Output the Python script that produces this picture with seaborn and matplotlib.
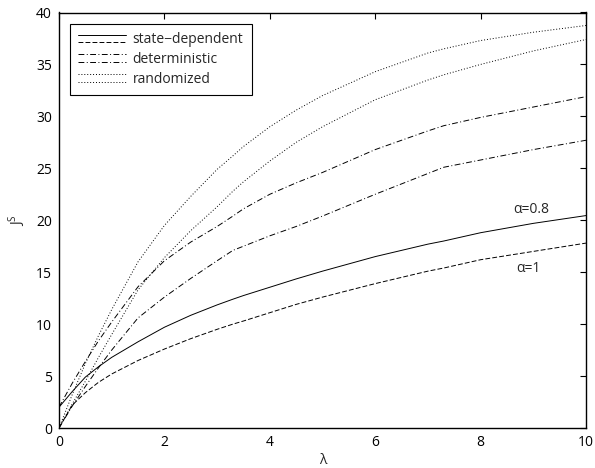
import numpy as np
import pandas as pd
import matplotlib
matplotlib.use("Agg")
import matplotlib.pyplot as plt
import seaborn as sns
from matplotlib.lines import Line2D
from matplotlib.legend_handler import HandlerBase

# arrival rate grid
lam = [0, 0.25, 0.5, 0.75, 1, 1.5, 2, 2.5, 3, 3.3, 3.5, 4, 4.5, 5, 6, 7, 7.3, 8, 9, 10]

# state-dependent policy
sd_a08 = [2.0, 3.5, 4.9, 5.9, 6.8, 8.3, 9.7, 10.85, 11.85, 12.4, 12.75, 13.55, 14.35, 15.1,
          16.5, 17.7, 18.0, 18.8, 19.7, 20.45]
sd_a1 = [0.0, 2.2, 3.4, 4.4, 5.2, 6.5, 7.6, 8.6, 9.5, 10.0, 10.3, 11.1, 11.9, 12.6,
         13.9, 15.1, 15.4, 16.2, 17.0, 17.8]

# deterministic policy
det_a08 = [2.0, 4.3, 6.4, 8.4, 10.2, 13.6, 16.1, 17.9, 19.4, 20.4, 21.1, 22.5, 23.6, 24.6,
           26.8, 28.6, 29.1, 29.9, 30.9, 31.9]
det_a1 = [0.0, 2.1, 4.0, 5.8, 7.5, 10.6, 12.6, 14.4, 16.1, 17.1, 17.5, 18.5, 19.4, 20.4,
          22.5, 24.5, 25.1, 25.8, 26.8, 27.7]

# randomized policy
rnd_a08 = [0.0, 3.2, 6.2, 8.9, 11.4, 16.0, 19.5, 22.3, 24.9, 26.2, 27.1, 29.0, 30.6, 32.0,
           34.3, 36.1, 36.5, 37.3, 38.1, 38.75]
rnd_a1 = [0.0, 2.3, 4.5, 6.8, 9.0, 13.3, 16.4, 19.0, 21.3, 22.8, 23.7, 25.7, 27.5, 29.0,
          31.6, 33.5, 34.0, 35.0, 36.3, 37.4]

policy_names = ["state\u2212dependent", "deterministic", "randomized"]

curves = {
    "sd_a08": sd_a08, "sd_a1": sd_a1,
    "det_a08": det_a08, "det_a1": det_a1,
    "rnd_a08": rnd_a08, "rnd_a1": rnd_a1,
}
dashes = {
    "sd_a08": "",
    "sd_a1": (5, 2.2),
    "det_a08": (6, 2.5, 1, 2.5),
    "det_a1": (6, 2.5, 1, 2.5),
    "rnd_a08": (1, 2),
    "rnd_a1": (1, 2),
}

df = pd.concat(
    [pd.DataFrame({"lam": lam, "J": vals, "curve": name}) for name, vals in curves.items()],
    ignore_index=True,
)


class TwoLineHandler(HandlerBase):
    """Draws a pair of legend lines stacked on top of each other."""

    def create_artists(self, legend, orig_handle, xdescent, ydescent,
                       width, height, fontsize, trans):
        out = []
        for h, frac in zip(orig_handle, (0.9, 0.1)):
            y = height * frac - ydescent
            ln = Line2D([-xdescent, -xdescent + width], [y, y])
            ln.update_from(h)
            ln.set_transform(trans)
            out.append(ln)
        return out


sns.set_style("white")
plt.rcParams["font.family"] = ["Open Sans", "DejaVu Sans"]
plt.rcParams["mathtext.default"] = "regular"

fig = plt.figure(figsize=(5.95, 4.68), dpi=100)
ax = fig.add_axes([59 / 595, 1 - 428 / 468, 527 / 595, 415.5 / 468])

sns.lineplot(data=df, x="lam", y="J", style="curve", dashes=dashes, color="black",
             linewidth=0.7, estimator=None, sort=False, legend=False, ax=ax)

ax.set_xlim(0, 10)
ax.set_ylim(0, 40)
ax.set_xticks(np.arange(0, 11, 2))
ax.set_yticks(np.arange(0, 41, 5))
ax.tick_params(direction="in", length=4, width=0.8, top=True, right=True,
               labelsize=10, pad=5, colors="black")
for s in ax.spines.values():
    s.set_visible(True)
    s.set_color("black")
    s.set_linewidth(1.0)

ax.set_xlabel("\u03bb", fontsize=10, labelpad=2)
ax.set_ylabel("J$^S$", fontsize=10, labelpad=6)

ax.text(8.97, 21.0, "\u03b1=0.8", fontsize=10, ha="center", va="center")
ax.text(8.9, 15.35, "\u03b1=1", fontsize=10, ha="center", va="center")

handles = []
for a, b in (("sd_a08", "sd_a1"), ("det_a08", "det_a1"), ("rnd_a08", "rnd_a1")):
    pair = []
    for key in (a, b):
        d = dashes[key]
        ln = Line2D([], [], color="black", linewidth=0.7)
        if d:
            ln.set_dashes(d)
        pair.append(ln)
    handles.append(tuple(pair))

leg = ax.legend(handles, policy_names, handler_map={tuple: TwoLineHandler()},
                loc="upper left", bbox_to_anchor=(11 / 527, 1 - 11.5 / 415.5),
                borderaxespad=0, fontsize=10, handlelength=3.4, handletextpad=0.5,
                labelspacing=0.35, fancybox=False, framealpha=1, borderpad=0.6)
leg.get_frame().set_edgecolor("black")
leg.get_frame().set_linewidth(0.8)

fig.savefig("out.png", dpi=100)
